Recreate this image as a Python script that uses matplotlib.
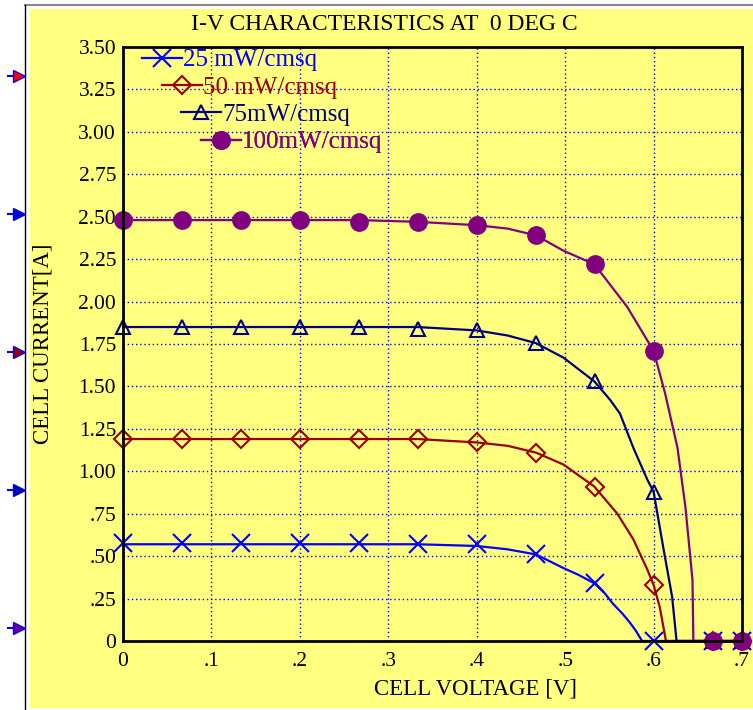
import matplotlib
matplotlib.use('Agg')
import matplotlib.pyplot as plt
from matplotlib.lines import Line2D
from matplotlib.patches import Rectangle

plt.rcParams['font.family'] = ['Liberation Serif', 'DejaVu Serif']

# ---- data ----
labels = ['25 mW/cmsq', '50 mW/cmsq', '75mW/cmsq', '100mW/cmsq']

v_25 = [0, 0.333, 0.4, 0.435, 0.467, 0.498, 0.515, 0.533, 0.545, 0.554, 0.565, 0.573, 0.580, 0.587, 0.7]
i_25 = [0.57, 0.57, 0.56, 0.54, 0.51, 0.43, 0.39, 0.34, 0.28, 0.22, 0.16, 0.11, 0.06, 0.0, 0.0]

v_50 = [0, 0.333, 0.4, 0.435, 0.467, 0.498, 0.533, 0.559, 0.577, 0.593, 0.6, 0.607, 0.614, 0.7]
i_50 = [1.19, 1.19, 1.17, 1.15, 1.11, 1.04, 0.91, 0.75, 0.60, 0.42, 0.33, 0.20, 0.0, 0.0]

v_75 = [0, 0.333, 0.4, 0.435, 0.467, 0.498, 0.533, 0.551, 0.562, 0.577, 0.593, 0.6, 0.611, 0.621, 0.626, 0.7]
i_75 = [1.85, 1.85, 1.83, 1.80, 1.755, 1.67, 1.53, 1.42, 1.34, 1.14, 0.95, 0.88, 0.55, 0.26, 0.0, 0.0]

v_100 = [0, 0.267, 0.333, 0.4, 0.435, 0.467, 0.498, 0.533, 0.570, 0.6, 0.613, 0.627, 0.636, 0.644, 0.645, 0.7]
i_100 = [2.48, 2.48, 2.47, 2.45, 2.43, 2.39, 2.30, 2.22, 1.97, 1.71, 1.46, 1.14, 0.79, 0.36, 0.0, 0.0]

# marker sample points
v_mark = [0, 0.0667, 0.1333, 0.2, 0.2667, 0.3333, 0.4, 0.4667, 0.5333, 0.6, 0.6667, 0.7]
m_25 = [0.58, 0.58, 0.58, 0.58, 0.58, 0.57, 0.57, 0.51, 0.34, 0.0, 0.0, 0.0]
m_50 = [1.19, 1.19, 1.19, 1.19, 1.19, 1.19, 1.17, 1.11, 0.91, 0.33, 0.0, 0.0]
m_75 = [1.85, 1.85, 1.85, 1.85, 1.85, 1.84, 1.83, 1.755, 1.53, 0.88, 0.0, 0.0]
m_100 = [2.48, 2.48, 2.48, 2.48, 2.47, 2.47, 2.45, 2.39, 2.22, 1.71, 0.0, 0.0]

x_ticks = [0, 0.1, 0.2, 0.3, 0.4, 0.5, 0.6, 0.7]
x_ticklabels = ['0', '.1', '.2', '.3', '.4', '.5', '.6', '.7']
y_ticks = [0, 0.25, 0.5, 0.75, 1.0, 1.25, 1.5, 1.75, 2.0, 2.25, 2.5, 2.75, 3.0, 3.25, 3.5]
y_ticklabels = ['0', '.25', '.50', '.75', '1.00', '1.25', '1.50', '1.75', '2.00',
                '2.25', '2.50', '2.75', '3.00', '3.25', '3.50']

YELLOW = '#FFFF80'
colors = ['#0000FF', '#990000', '#000080', '#800080']
markers = ['x', 'D', '^', 'o']
msizes = [13, 9, 10, 12]
mfaces = ['none', 'none', 'none', '#800080']

curves = [(v_25, i_25), (v_50, i_50), (v_75, i_75), (v_100, i_100)]
marks = [m_25, m_50, m_75, m_100]

fig = plt.figure(figsize=(7.53, 7.10), dpi=100)
fig.patch.set_facecolor('white')

# yellow panel + frame lines around it
fig.add_artist(Rectangle((30 / 753, 2 / 710), 1 - 30 / 753, 699 / 710,
                         transform=fig.transFigure, facecolor=YELLOW, edgecolor='none', zorder=0))
fig.add_artist(Line2D([25 / 753, 1], [705 / 710, 705 / 710], transform=fig.transFigure,
                      color='#888888', linewidth=1.5))
fig.add_artist(Line2D([25 / 753, 25 / 753], [0, 705 / 710], transform=fig.transFigure,
                      color='black', linewidth=1))

# little pointer marks on the left edge
arrow_y = [634, 496, 358, 220, 82]
arrow_c = ['#FF0000', '#0000CC', '#990000', '#0000AA', '#660099']
for yy, cc in zip(arrow_y, arrow_c):
    fig.add_artist(Line2D([8 / 753, 22 / 753], [yy / 710, yy / 710], transform=fig.transFigure,
                          color='#0000FF', linewidth=1.5))
    fig.add_artist(Line2D([19 / 753], [yy / 710], transform=fig.transFigure, marker='>',
                          markersize=8, color=cc, markeredgecolor='#0000FF', linestyle='none'))

ax = fig.add_axes([123 / 753, 69 / 710, 619 / 753, 594 / 710])
ax.set_facecolor(YELLOW)

for (vv, ii), mm, c, mk, ms, mf in zip(curves, marks, colors, markers, msizes, mfaces):
    ax.plot(vv, ii, color=c, linewidth=1.6, zorder=3, clip_on=False)
    ax.plot(v_mark, mm, linestyle='none', marker=mk, markersize=ms, color=c,
            markerfacecolor=mf, markeredgewidth=1.5, zorder=4, clip_on=False)

ax.set_xlim(0, 0.7)
ax.set_ylim(0, 3.5)
ax.set_xticks(x_ticks)
ax.set_xticklabels(x_ticklabels)
ax.set_yticks(y_ticks)
ax.set_yticklabels(y_ticklabels)
ax.tick_params(axis='both', length=0, labelsize=15.5)
ax.tick_params(axis='x', pad=8)
ax.tick_params(axis='y', pad=5)
ax.grid(True, color='#0000FF', linestyle=(0, (1, 2)), linewidth=1)
ax.set_axisbelow(True)
for spine in ax.spines.values():
    spine.set_linewidth(2)
    spine.set_color('black')
    spine.set_zorder(5)

ax.set_xlabel('CELL VOLTAGE [V]', fontsize=16.5)
ax.xaxis.set_label_coords(0.569, -0.063)
ax.set_ylabel('CELL CURRENT[A]', fontsize=16.5)
ax.yaxis.set_label_coords(-0.112, 0.5)

fig.text(384 / 753, 685 / 710, 'I-V CHARACTERISTICS AT  0 DEG C', fontsize=17,
         ha='center', va='center')

# staggered legend entries
leg_x = [0.031, 0.063, 0.094, 0.126]
leg_y = [0.978, 0.931, 0.886, 0.840]
for k in range(4):
    h = Line2D([], [], color=colors[k], linewidth=1.6, marker=markers[k],
               markersize=msizes[k], markerfacecolor=mfaces[k], markeredgewidth=1.5)
    leg = ax.legend([h], [labels[k]], loc='center left',
                    bbox_to_anchor=(leg_x[k], leg_y[k]),
                    frameon=False, fontsize=18, handlelength=1.6, handletextpad=0.05,
                    borderpad=0, borderaxespad=0, numpoints=1)
    leg.get_texts()[0].set_color(colors[k])
    ax.add_artist(leg)

fig.savefig('out.png', dpi=100)
